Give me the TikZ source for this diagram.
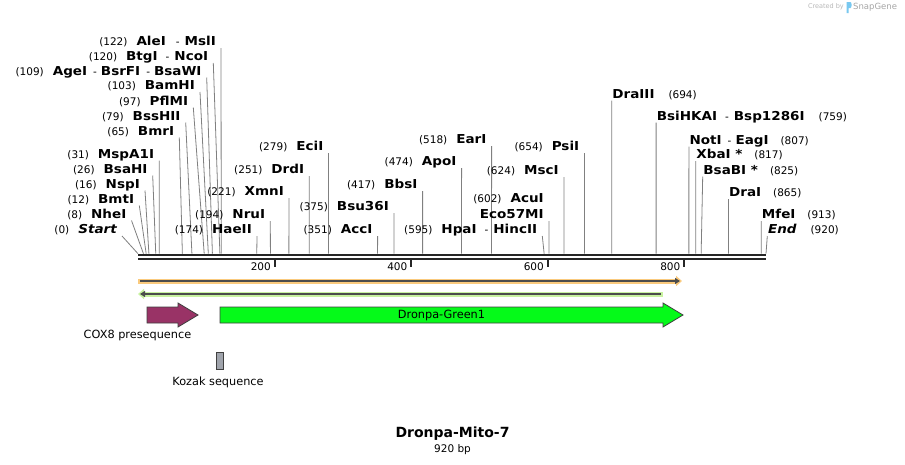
\documentclass[tikz,border=0pt]{standalone}
\usepackage{fontspec}
\setmainfont{DejaVu Sans}
\newfontfamily\enzfont{DejaVu Sans}[FakeStretch=1.1]
\usepackage{tikz}
\usetikzlibrary{positioning, calc, arrows.meta}
\definecolor{cutgray}{RGB}{128,128,128}
\definecolor{orfband}{RGB}{250,202,125}
\definecolor{primband}{RGB}{200,242,160}
\definecolor{coxred}{RGB}{153,51,102}
\definecolor{dronpagreen}{RGB}{5,250,25}
\definecolor{kozakgray}{RGB}{160,164,172}
\definecolor{sglogo}{RGB}{120,200,240}
\newcommand{\enz}[1]{{\enzfont\fontsize{12.3}{14}\selectfont\bfseries #1}}

\begin{document}
\begin{tikzpicture}[x=1pt, y=-1pt,
    site/.style={inner xsep=5pt, inner ysep=0.5pt, text height=9.5pt, text depth=1.5pt,
        font=\fontsize{10.5}{12}\selectfont, anchor=south east},
    rsite/.style={site, inner xsep=0.5pt, anchor=south west},
    cut/.style={draw=cutgray, line width=0.8pt},
    feat/.style={draw=black!75, line width=0.8pt},
    flabel/.style={font=\fontsize{11.3}{13}\selectfont}]
        \useasboundingbox[fill=white] (0,0) rectangle (905,464);

        % sequence
        \coordinate (s0) at (138,253.7);
        \coordinate (s920) at (766,253.7);
        \draw[line width=2.6pt, black!85] (138,255) -- (766,255);
        \draw[line width=2.6pt, black!85] (138,259) -- (766,259);
        \draw[line width=2pt, black!85] (274.5,259) -- (274.5,267);
        \draw[line width=2pt, black!85] (411,259) -- (411,267);
        \draw[line width=2pt, black!85] (547.6,259) -- (547.6,267);
        \draw[line width=2pt, black!85] (684.1,259) -- (684.1,267);
        \node[anchor=east, inner sep=1pt, font=\fontsize{10.5}{12}\selectfont] (t200) at (272,266.5) {200};
        \node[anchor=east, inner sep=1pt, font=\fontsize{10.5}{12}\selectfont] (t400) at (408.5,266.5) {400};
        \node[anchor=east, inner sep=1pt, font=\fontsize{10.5}{12}\selectfont] (t600) at (545,266.5) {600};
        \node[anchor=east, inner sep=1pt, font=\fontsize{10.5}{12}\selectfont] (t800) at (681.5,266.5) {800};

        % sites, left cluster
        \node[site] (alei) at (221,48) {(122)\hspace{9pt}\enz{AleI}\hspace{10pt}-\hspace{5pt}\enz{MslI}};
        \draw[cut] (alei.south east) -- ($(s0)!122/920!(s920)$);
        \node[site] (btgi) at (213.3,63) {(120)\hspace{9pt}\enz{BtgI}\hspace{8pt}-\hspace{5pt}\enz{NcoI}};
        \draw[cut] (btgi.south east) -- ($(s0)!120/920!(s920)$);
        \node[site] (agei) at (206.7,77.5) {(109)\hspace{9pt}\enz{AgeI}\hspace{6pt}-\hspace{4pt}\enz{BsrFI}\hspace{6pt}-\hspace{4pt}\enz{BsaWI}};
        \draw[cut] (agei.south east) -- ($(s0)!109/920!(s920)$);
        \node[site] (bamhi) at (200,92) {(103)\hspace{9pt}\enz{BamHI}};
        \draw[cut] (bamhi.south east) -- ($(s0)!103/920!(s920)$);
        \node[site] (pflmi) at (193.3,107.5) {(97)\hspace{9pt}\enz{PflMI}};
        \draw[cut] (pflmi.south east) -- ($(s0)!97/920!(s920)$);
        \node[site] (bsshii) at (185.7,122.5) {(79)\hspace{9pt}\enz{BssHII}};
        \draw[cut] (bsshii.south east) -- ($(s0)!79/920!(s920)$);
        \node[site] (bmri) at (179.3,137.5) {(65)\hspace{9pt}\enz{BmrI}};
        \draw[cut] (bmri.south east) -- ($(s0)!65/920!(s920)$);
        \node[site] (mspa1i) at (159.3,160.5) {(31)\hspace{9pt}\enz{MspA1I}};
        \draw[cut] (mspa1i.south east) -- ($(s0)!31/920!(s920)$);
        \node[site] (bsahi) at (152.7,175.5) {(26)\hspace{9pt}\enz{BsaHI}};
        \draw[cut] (bsahi.south east) -- ($(s0)!26/920!(s920)$);
        \node[site] (nspi) at (145,190.5) {(16)\hspace{9pt}\enz{NspI}};
        \draw[cut] (nspi.south east) -- ($(s0)!16/920!(s920)$);
        \node[site] (bmti) at (139.3,205.5) {(12)\hspace{9pt}\enz{BmtI}};
        \draw[cut] (bmti.south east) -- ($(s0)!12/920!(s920)$);
        \node[site] (nhei) at (131.5,220.5) {(8)\hspace{9pt}\enz{NheI}};
        \draw[cut] (nhei.south east) -- ($(s0)!8/920!(s920)$);
        \node[site] (start) at (122,236) {(0)\hspace{9pt}\enz{\itshape Start}};
        \draw[cut] (start.south east) -- (s0);

        % sites, middle
        \node[site] (haeii) at (257,236) {(174)\hspace{9pt}\enz{HaeII}};
        \draw[cut] (haeii.south east) -- ($(s0)!174/920!(s920)$);
        \node[site] (nrui) at (270.3,221) {(194)\hspace{9pt}\enz{NruI}};
        \draw[cut] (nrui.south east) -- ($(s0)!194/920!(s920)$);
        \node[site] (xmni) at (289,198) {(221)\hspace{9pt}\enz{XmnI}};
        \draw[cut] (xmni.south east) -- ($(s0)!221/920!(s920)$);
        \node[site] (drdi) at (309.3,176) {(251)\hspace{9pt}\enz{DrdI}};
        \draw[cut] (drdi.south east) -- ($(s0)!251/920!(s920)$);
        \node[site] (ecii) at (328.5,153) {(279)\hspace{9pt}\enz{EciI}};
        \draw[cut] (ecii.south east) -- ($(s0)!279/920!(s920)$);
        \node[site] (acci) at (377.6,236) {(351)\hspace{9pt}\enz{AccI}};
        \draw[cut] (acci.south east) -- ($(s0)!351/920!(s920)$);
        \node[site] (bsu36i) at (394,213) {(375)\hspace{9pt}\enz{Bsu36I}};
        \draw[cut] (bsu36i.south east) -- ($(s0)!375/920!(s920)$);
        \node[site] (bbsi) at (422.6,191) {(417)\hspace{9pt}\enz{BbsI}};
        \draw[cut] (bbsi.south east) -- ($(s0)!417/920!(s920)$);
        \node[site] (apoi) at (461.6,168) {(474)\hspace{9pt}\enz{ApoI}};
        \draw[cut] (apoi.south east) -- ($(s0)!474/920!(s920)$);
        \node[site] (eari) at (491.6,146) {(518)\hspace{9pt}\enz{EarI}};
        \draw[cut] (eari.south east) -- ($(s0)!518/920!(s920)$);
        \node[site] (hpai) at (542.3,236) {(595)\hspace{9pt}\enz{HpaI}\hspace{8pt}-\hspace{5pt}\enz{HincII}};
        \draw[cut] (hpai.south east) -- ($(s0)!595/920!(s920)$);
        \node[site] (eco57mi) at (548.9,221) {\enz{Eco57MI}};
        \node[site] (acui) at ([yshift=3.5pt]eco57mi.north east) {(602)\hspace{9pt}\enz{AcuI}};
        \draw[cut] (eco57mi.south east) -- ($(s0)!602/920!(s920)$);
        \node[site] (msci) at (563.9,177) {(624)\hspace{9pt}\enz{MscI}};
        \draw[cut] (msci.south east) -- ($(s0)!624/920!(s920)$);
        \node[site] (psii) at (584.4,153) {(654)\hspace{9pt}\enz{PsiI}};
        \draw[cut] (psii.south east) -- ($(s0)!654/920!(s920)$);

        % sites, right
        \node[rsite] (draiii) at (611.7,100.5) {\enz{DraIII}\hspace{14pt}(694)};
        \draw[cut] (draiii.south west) -- ($(s0)!694/920!(s920)$);
        \node[rsite] (bsihkai) at (656.1,122.5) {\enz{BsiHKAI}\hspace{8pt}-\hspace{5pt}\enz{Bsp1286I}\hspace{14pt}(759)};
        \draw[cut] (bsihkai.south west) -- ($(s0)!759/920!(s920)$);
        \node[rsite] (noti) at (688.9,146.5) {\enz{NotI}\hspace{6pt}-\hspace{4pt}\enz{EagI}\hspace{12pt}(807)};
        \draw[cut] (noti.south west) -- ($(s0)!807/920!(s920)$);
        \node[rsite] (xbai) at (695.7,161) {\enz{XbaI *}\hspace{12pt}(817)};
        \draw[cut] (xbai.south west) -- ($(s0)!817/920!(s920)$);
        \node[rsite] (bsabi) at (702.7,176.5) {\enz{BsaBI *}\hspace{12pt}(825)};
        \draw[cut] (bsabi.south west) -- ($(s0)!825/920!(s920)$);
        \node[rsite] (drai) at (728.4,199) {\enz{DraI}\hspace{12pt}(865)};
        \draw[cut] (drai.south west) -- ($(s0)!865/920!(s920)$);
        \node[rsite] (mfei) at (761.2,221) {\enz{MfeI}\hspace{12pt}(913)};
        \draw[cut] (mfei.south west) -- ($(s0)!913/920!(s920)$);
        \node[rsite] (endl) at (767.3,236) {\enz{\itshape End}\hspace{14pt}(920)};
        \draw[cut] (endl.south west) -- (s920);

        % features
        \draw[orfband, line width=5pt, -{Triangle[length=6pt,width=10pt]}] (138,281) -- (682,281);
        \draw[black!70, line width=1.8pt, -{Triangle[length=5pt,width=6pt]}] (140,281) -- (680,281);
        \draw[primband, line width=5pt, {Triangle[length=6pt,width=10pt]}-] (138,294) -- (663,294);
        \draw[black!70, line width=1.8pt, {Triangle[length=5pt,width=6pt]}-] (140,294) -- (661,294);
        \draw[feat, fill=coxred] (147,307) -- (178,307) -- (178,303) -- (198,315) -- (178,327) -- (178,323) -- (147,323) -- cycle;
        \draw[feat, fill=dronpagreen] (220,307) -- (663,307) -- (663,303) -- (683,315) -- (663,327) -- (663,323) -- (220,323) -- cycle;
        \node[flabel] (dronpa) at (441.5,315) {Dronpa-Green1};
        \node[flabel] (cox8) at (137.5,335) {COX8 presequence};
        \draw[feat, fill=kozakgray] (216.7,352.7) rectangle (223.3,369.3);
        \node[flabel] (kozak) at (218,382.5) {Kozak sequence};

        % title
        \node[font=\fontsize{14}{16}\selectfont\bfseries, inner sep=1pt] (title) at (452.5,434) {Dronpa-Mito-7};
        \node[font=\fontsize{10.5}{12}\selectfont, inner sep=1pt, below=1pt of title] (len) {920 bp};

        % stamp
        \node[anchor=east, inner sep=0pt, text=black!28, font=\fontsize{6.5}{7}\selectfont] (cr) at (844,7) {Created by};
        \fill[sglogo] (846.5,2) -- (850.5,2) .. controls (852,2) and (852,8) .. (850.5,8) -- (848.5,8) -- (848.5,13) -- (846.5,13) -- cycle;
        \node[anchor=west, inner sep=0pt, text=black!35, font=\fontsize{8.5}{9}\selectfont] (sg) at (853,7) {SnapGene};
    \end{tikzpicture}
\end{document}
